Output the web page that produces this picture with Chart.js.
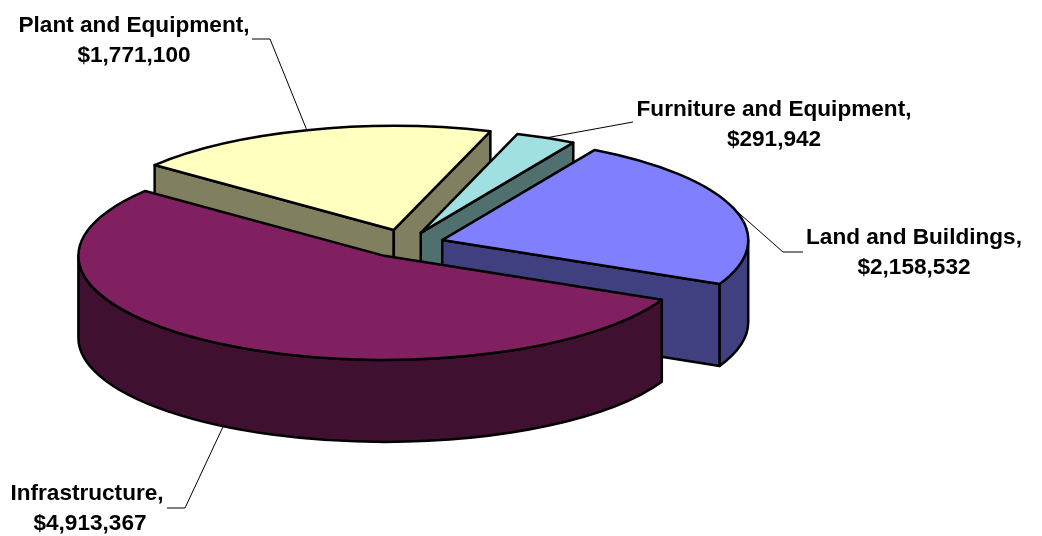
<!DOCTYPE html>
<html>
<head>
<meta charset="utf-8">
<title>Assets</title>
<script src="https://cdn.jsdelivr.net/npm/chart.js@4"></script>
<style>
    html, body { margin: 0; padding: 0; background: #fff; }
    canvas { display: block; }
</style>
</head>
<body>
<canvas id="assetChart" width="1042" height="536"></canvas>
<script>
// Slices run clockwise and are painted in this order, back to front
const categories = ['Plant and Equipment', 'Furniture and Equipment', 'Land and Buildings', 'Infrastructure'];
const assetValues = [1771100, 291942, 2158532, 4913367];
const topColors = ['#FFFFC0', '#A0E0E0', '#8080FF', '#802060'];
const sideColors = ['#808060', '#507070', '#404080', '#401030'];
const explodeBy = [43, 36, 38, 41];

// Where each label's text block sits and how its leader bends
const labelCentres = [[134, 32], [774, 116], [914, 244], [87, 500]];
const valueCentreX = [134, 774, 914, 90];
const leaderElbows = [[[270, 39], [252, 39]], [[633, 122]], [[783, 252], [803, 252]], [[185, 508], [167, 508]]];

const pieCentre = { x: 406, y: 244 };
const tilt = 0.34;
const depth = 82;
const outline = 2.5;

function sliceGeometry(el, explode) {
    const mid = (el.startAngle + el.endAngle) / 2;
    const r = el.outerRadius;
    const cx = pieCentre.x + explode * Math.cos(mid);
    const cy = pieCentre.y + explode * Math.sin(mid) * tilt;
    const at = a => [cx + r * Math.cos(a), cy + r * tilt * Math.sin(a)];
    return { mid, r, cx, cy, at };
}

class Pie3DController extends Chart.PieController {
    draw() {
        const ctx = this.chart.ctx;
        const explode = this.getDataset().explode;
        const sides = this.getDataset().sideColor;
        this._cachedMeta.data.forEach((el, i) => {
            const g = sliceGeometry(el, explode[i]);
            this.drawSides(ctx, el, g, sides[i]);

            // top face comes from the arc element itself, flattened onto the ellipse
            ctx.save();
            ctx.translate(g.cx, g.cy);
            ctx.scale(1, tilt);
            ctx.translate(-el.x, -el.y);
            el.draw(ctx);
            ctx.restore();

            ctx.beginPath();
            ctx.moveTo(g.cx, g.cy);
            ctx.ellipse(g.cx, g.cy, g.r, g.r * tilt, 0, el.startAngle, el.endAngle);
            ctx.closePath();
            ctx.lineWidth = outline;
            ctx.lineJoin = 'round';
            ctx.strokeStyle = '#000';
            ctx.stroke();
        });
    }

    drawSides(ctx, el, g, color) {
        const face = path => {
            ctx.beginPath();
            path();
            ctx.closePath();
            ctx.fillStyle = color;
            ctx.fill();
            ctx.lineWidth = outline;
            ctx.lineJoin = 'round';
            ctx.strokeStyle = '#000';
            ctx.stroke();
        };
        const cutFace = a => {
            const p = g.at(a);
            face(() => {
                ctx.moveTo(g.cx, g.cy);
                ctx.lineTo(p[0], p[1]);
                ctx.lineTo(p[0], p[1] + depth);
                ctx.lineTo(g.cx, g.cy + depth);
            });
        };

        // cut faces only show when they turn toward the viewer
        if (Math.cos(el.startAngle) < 0) cutFace(el.startAngle);
        if (Math.cos(el.endAngle) > 0) cutFace(el.endAngle);

        // outer wall: the part of the rim on the front half of the ellipse
        for (let turn = 0; turn < 3; turn++) {
            const from = Math.max(el.startAngle, turn * 2 * Math.PI);
            const to = Math.min(el.endAngle, turn * 2 * Math.PI + Math.PI);
            if (to <= from) continue;
            face(() => {
                ctx.ellipse(g.cx, g.cy, g.r, g.r * tilt, 0, from, to);
                ctx.ellipse(g.cx, g.cy + depth, g.r, g.r * tilt, 0, to, from, true);
            });
        }
    }
}
Pie3DController.id = 'pie3d';
Pie3DController.defaults = Chart.PieController.defaults;
Chart.register(Pie3DController);

const sliceLabels = {
    id: 'sliceLabels',
    afterDraw(chart) {
        const ctx = chart.ctx;
        const dataset = chart.data.datasets[0];
        chart.getDatasetMeta(0).data.forEach((el, i) => {
            const g = sliceGeometry(el, dataset.explode[i]);
            const start = g.at(g.mid);
            const onWall = Math.sin(g.mid) > 0;

            ctx.beginPath();
            ctx.moveTo(start[0], start[1] + (onWall ? depth : 0));
            leaderElbows[i].forEach(p => ctx.lineTo(p[0], p[1]));
            ctx.lineWidth = 1;
            ctx.strokeStyle = '#000';
            ctx.stroke();

            ctx.fillStyle = '#000';
            ctx.font = 'bold 22.6px "Liberation Sans", Arial, sans-serif';
            ctx.textAlign = 'center';
            ctx.textBaseline = 'alphabetic';
            const [x, y] = labelCentres[i];
            ctx.fillText(categories[i] + ',', x, y);
            ctx.fillText('$' + assetValues[i].toLocaleString('en-US'), valueCentreX[i], y + 29.5);
        });
    }
};

new Chart(document.getElementById('assetChart').getContext('2d'), {
    type: 'pie3d',
    data: {
        labels: categories,
        datasets: [{
            data: assetValues,
            backgroundColor: topColors,
            sideColor: sideColors,
            explode: explodeBy,
            borderWidth: 0,
            clip: false
        }]
    },
    options: {
        responsive: false,
        animation: false,
        rotation: 308.6,
        radius: 306,
        events: [],
        plugins: {
            legend: { display: false },
            tooltip: { enabled: false }
        }
    },
    plugins: [sliceLabels]
});
</script>
</body>
</html>
